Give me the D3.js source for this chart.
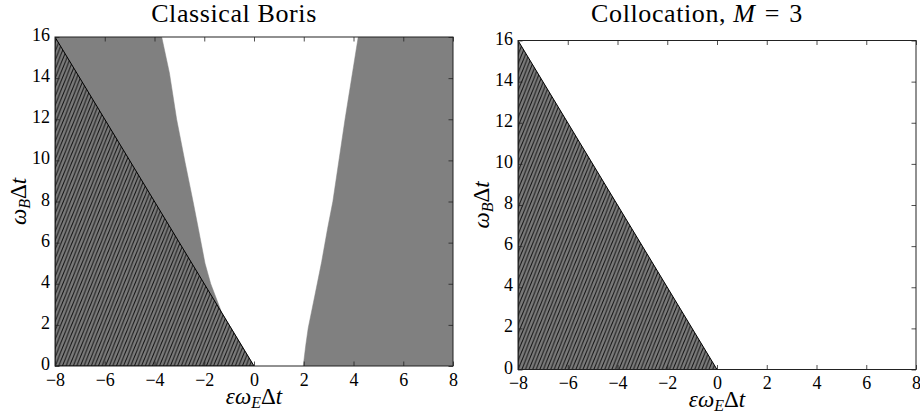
<!DOCTYPE html>
<html>
<head>
<meta charset="utf-8">
<script src="https://cdn.jsdelivr.net/npm/d3@7"></script>
<style>
  html, body { margin: 0; padding: 0; background: #fff; }
  svg { display: block; }
  svg text { font-family: 'Liberation Serif', 'Times New Roman', serif; }
</style>
</head>
<body>
<svg id="chart" width="920" height="414"></svg>
<script>
// ---- data ----
const xTicks = [-8, -6, -4, -2, 0, 2, 4, 6, 8];
const yTicks = [0, 2, 4, 6, 8, 10, 12, 14, 16];
const xDomain = [-8, 8];
const yDomain = [0, 16];

// hatched region (continuous problem unstable): omega_B < -2 eps omega_E
const hatchE = [-8, 0, -8];
const hatchB = [16, 0, 0];

// Classical Boris: left stability boundary (eps*omegaE*dt as function of omegaB*dt)
const leftB = [0, 1, 2, 2.6, 4, 5, 6.7, 8, 9.9, 12, 14.25, 16];
const leftE = [0, -0.5, -1.0, -1.3, -1.74, -1.97, -2.24, -2.45, -2.77, -3.11, -3.40, -3.71];
// Classical Boris: right stability boundary
const rightB = [0, 1, 1.85, 3.45, 5.07, 6.7, 8, 12, 16];
const rightE = [1.98, 2.08, 2.18, 2.45, 2.72, 2.96, 3.17, 3.66, 4.19];

const titles = ["Classical Boris", "Collocation, "];

const SERIF = "'Liberation Serif', 'Times New Roman', serif";

// ---- layout ----
const svg = d3.select("#chart").style("font-family", SERIF);
const defs = svg.append("defs");
const pat = defs.append("pattern")
  .attr("id", "hatch")
  .attr("patternUnits", "userSpaceOnUse")
  .attr("width", 3.6).attr("height", 9);
pat.append("rect").attr("width", 3.6).attr("height", 9).attr("fill", "#7a7a7a");
pat.append("path")
  .attr("d", "M0,9 L3.6,0 M-1,2.5 L1,-2.5 M2.6,11.5 L4.6,6.5")
  .attr("stroke", "#111").attr("stroke-width", 1).attr("fill", "none");

const panels = [
  { x0: 55, x1: 453, y0: 366, y1: 37, boris: true, titleX: 234, titleY: 22, xlabY: 404, ylabX: 26 },
  { x0: 518, x1: 916, y0: 369.5, y1: 40.5, boris: false, titleX: 697, titleY: 22, xlabY: 407, ylabX: 489 }
];

function serifText(sel, size) {
  return sel.attr("font-family", SERIF).style("font-family", SERIF)
    .attr("font-size", size).attr("fill", "#000");
}

panels.forEach((p, i) => {
  const x = d3.scaleLinear().domain(xDomain).range([p.x0, p.x1]);
  const y = d3.scaleLinear().domain(yDomain).range([p.y0, p.y1]);
  const g = svg.append("g");
  const clipId = "clip" + i;
  defs.append("clipPath").attr("id", clipId)
    .append("rect").attr("x", p.x0).attr("y", p.y1)
    .attr("width", p.x1 - p.x0).attr("height", p.y0 - p.y1);
  const plot = g.append("g").attr("clip-path", `url(#${clipId})`);

  if (p.boris) {
    const lpts = [[xDomain[0], yDomain[0]], [xDomain[0], yDomain[1]]];
    for (let k = leftB.length - 1; k >= 0; k--) lpts.push([leftE[k], leftB[k]]);
    plot.append("path")
      .attr("d", d3.line().x(d => x(d[0])).y(d => y(d[1]))(lpts) + "Z")
      .attr("fill", "#808080").attr("stroke", "#808080").attr("stroke-width", 0.5);
    const rpts = [];
    for (let k = 0; k < rightB.length; k++) rpts.push([rightE[k], rightB[k]]);
    rpts.push([xDomain[1], yDomain[1]], [xDomain[1], yDomain[0]]);
    plot.append("path")
      .attr("d", d3.line().x(d => x(d[0])).y(d => y(d[1]))(rpts) + "Z")
      .attr("fill", "#808080").attr("stroke", "#808080").attr("stroke-width", 0.5);
  }
  const hpts = hatchE.map((e, k) => [e, hatchB[k]]);
  plot.append("path")
    .attr("d", d3.line().x(d => x(d[0])).y(d => y(d[1]))(hpts) + "Z")
    .attr("fill", "url(#hatch)").attr("stroke", "#000").attr("stroke-width", 1);

  g.append("rect").attr("x", p.x0).attr("y", p.y1)
    .attr("width", p.x1 - p.x0).attr("height", p.y0 - p.y1)
    .attr("fill", "none").attr("stroke", "#222").attr("stroke-width", 1);

  const tl = 4.5;
  const bottom = g.append("g").attr("transform", `translate(0,${p.y0})`)
    .call(d3.axisBottom(x).tickValues(xTicks).tickSizeInner(-tl).tickSizeOuter(0).tickPadding(7)
      .tickFormat(d => d < 0 ? "\u2212" + Math.abs(d) : String(d)));
  const top = g.append("g").attr("transform", `translate(0,${p.y1})`)
    .call(d3.axisTop(x).tickValues(xTicks).tickSizeInner(-tl).tickSizeOuter(0).tickFormat(""));
  const left = g.append("g").attr("transform", `translate(${p.x0},0)`)
    .call(d3.axisLeft(y).tickValues(yTicks).tickSizeInner(-tl).tickSizeOuter(0).tickPadding(5));
  const right = g.append("g").attr("transform", `translate(${p.x1},0)`)
    .call(d3.axisRight(y).tickValues(yTicks).tickSizeInner(-tl).tickSizeOuter(0).tickFormat(""));
  [bottom, top, left, right].forEach(a => {
    a.attr("font-family", SERIF).style("font-family", SERIF);
    a.select(".domain").remove();
    a.selectAll(".tick line").attr("stroke", "#222").attr("stroke-width", 0.8);
    serifText(a.selectAll(".tick text"), 18);
  });
  left.selectAll(".tick text").attr("dy", "0.2em");

  const t = serifText(g.append("text"), 26).attr("x", p.titleX).attr("y", p.titleY)
    .attr("text-anchor", "middle").attr("letter-spacing", 0.6);
  if (p.boris) {
    t.text(titles[0]);
  } else {
    t.append("tspan").text(titles[1]);
    t.append("tspan").attr("font-style", "italic").text("M");
    t.append("tspan").text("\u2004=\u20043");
  }

  const xl = serifText(g.append("text"), 23).attr("x", (p.x0 + p.x1) / 2).attr("y", p.xlabY)
    .attr("text-anchor", "middle");
  xl.append("tspan").attr("font-style", "italic").text("εω");
  xl.append("tspan").attr("font-style", "italic").attr("font-size", 16).attr("dy", 4).text("E");
  xl.append("tspan").attr("dy", -4).text("Δ");
  xl.append("tspan").attr("font-style", "italic").text("t");

  const yl = serifText(g.append("text"), 23)
    .attr("transform", `translate(${p.ylabX},${(p.y0 + p.y1) / 2}) rotate(-90)`)
    .attr("text-anchor", "middle");
  yl.append("tspan").attr("font-style", "italic").text("ω");
  yl.append("tspan").attr("font-style", "italic").attr("font-size", 16).attr("dy", 4).text("B");
  yl.append("tspan").attr("dy", -4).text("Δ");
  yl.append("tspan").attr("font-style", "italic").text("t");
});
</script>
</body>
</html>
